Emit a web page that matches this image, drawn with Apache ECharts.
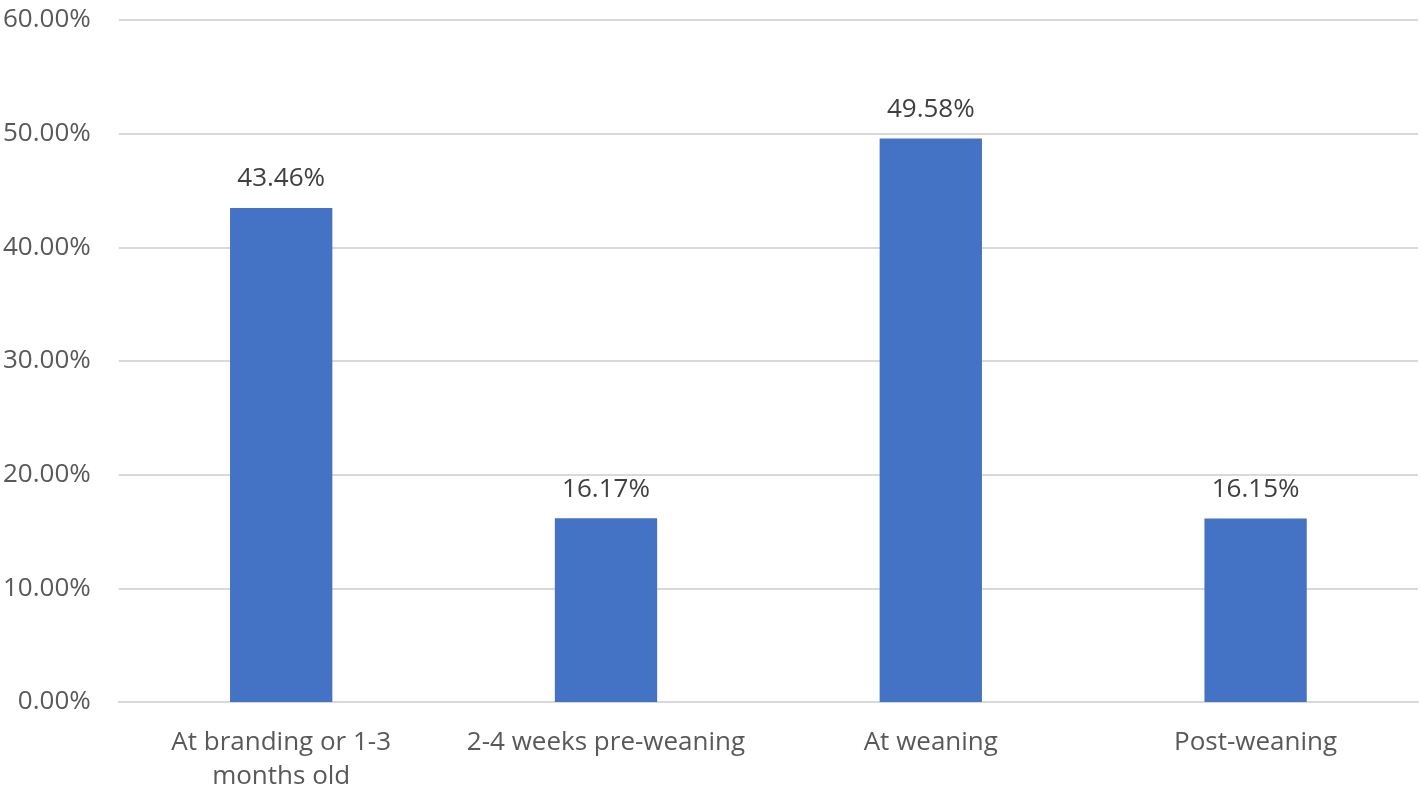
<!DOCTYPE html>
<html>
<head>
<meta charset="utf-8">
<script src="https://cdn.jsdelivr.net/npm/echarts@6/dist/echarts.min.js"></script>
<style>
  html, body { margin: 0; padding: 0; background: #fff; }
  #chart { width: 1421px; height: 796px; }
</style>
</head>
<body>
<div id="chart"></div>
<script>
const categories = ['At branding or 1-3\nmonths old', '2-4 weeks pre-weaning', 'At weaning', 'Post-weaning'];
const values = [43.46, 16.17, 49.58, 16.15];
const yTicks = { min: 0, max: 60, interval: 10 };

const chart = echarts.init(document.getElementById('chart'));

// font close to the original Office look
const font = '"Open Sans", "Noto Sans", sans-serif';

chart.setOption({
  animation: false,
  textStyle: { fontFamily: font },
  grid: { left: 118, right: 3, top: 20, bottom: 94 },
  xAxis: {
    type: 'category',
    data: categories,
    axisTick: { show: false },
    axisLine: { lineStyle: { color: '#d9d9d9', width: 2 } },
    axisLabel: {
      color: '#595959',
      fontSize: 26,
      fontFamily: font,
      margin: 24,
      lineHeight: 34,
      interval: 0
    }
  },
  yAxis: {
    type: 'value',
    min: yTicks.min,
    max: yTicks.max,
    interval: yTicks.interval,
    axisLine: { show: false },
    axisTick: { show: false },
    splitLine: { lineStyle: { color: '#d9d9d9', width: 2 } },
    axisLabel: {
      color: '#595959',
      fontSize: 26,
      fontFamily: font,
      margin: 28,
      formatter: v => v.toFixed(2) + '%'
    }
  },
  series: [{
    type: 'bar',
    data: values,
    barWidth: '31.5%',
    itemStyle: { color: '#4472c4' },
    label: {
      show: true,
      position: 'top',
      distance: 16,
      color: '#404040',
      fontSize: 26,
      fontFamily: font,
      formatter: p => p.value.toFixed(2) + '%'
    }
  }]
});
</script>
</body>
</html>
